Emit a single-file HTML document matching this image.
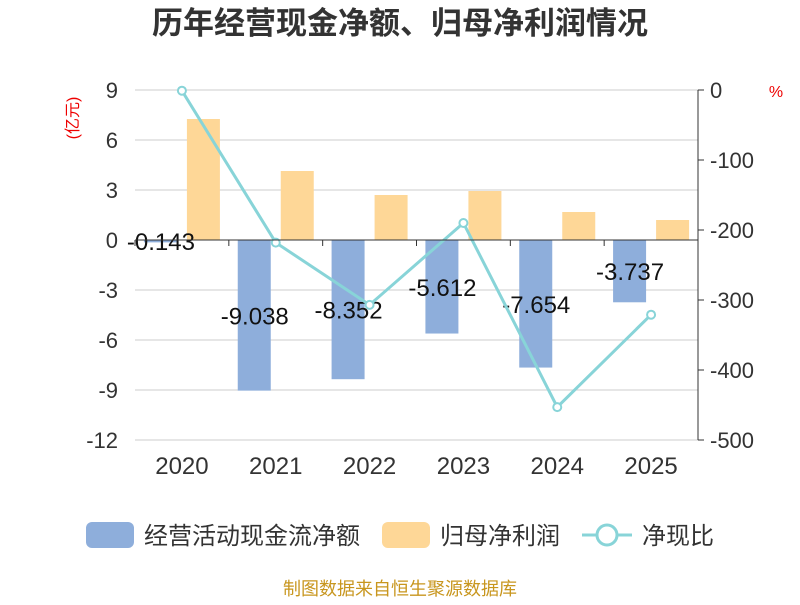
<!DOCTYPE html>
<html><head><meta charset="utf-8"><style>
body{margin:0;background:#fff;font-family:"Liberation Sans","Noto Sans CJK SC",sans-serif}
</style></head><body>
<svg width="800" height="600" viewBox="0 0 800 600" font-family="Liberation Sans, Noto Sans CJK SC, sans-serif">
<text x="400" y="34" text-anchor="middle" font-size="31" font-weight="bold" fill="#333">历年经营现金净额、归母净利润情况</text>
<text transform="translate(78,118) rotate(-90)" text-anchor="middle" font-size="16" fill="#e00">(亿元)</text>
<text x="776" y="97" text-anchor="middle" font-size="16" fill="#e00">%</text>
<g id="grid"></g><g id="bars"></g><g id="line"></g><g id="axes"></g>
<g>
<rect x="86" y="522" width="48" height="26" rx="6" fill="#8eaedb"/>
<text x="144" y="544" font-size="24" fill="#333">经营活动现金流净额</text>
<rect x="382" y="522" width="48" height="26" rx="6" fill="#fed797"/>
<text x="440" y="544" font-size="24" fill="#333">归母净利润</text>
<line x1="582" y1="535" x2="632" y2="535" stroke="#88d4d8" stroke-width="3"/>
<circle cx="607" cy="535" r="10" fill="#fff" stroke="#88d4d8" stroke-width="3"/>
<text x="642" y="544" font-size="24" fill="#333">净现比</text>
</g>
<text x="400" y="595" text-anchor="middle" font-size="18" fill="#c8961e">制图数据来自恒生聚源数据库</text>
</svg>
<script>
const categories=["2020","2021","2022","2023","2024","2025"];
const cashFlow=[-0.143,-9.038,-8.352,-5.612,-7.654,-3.737];
const profit=[7.26,4.14,2.7,2.94,1.68,1.2];
const ratio=[-1,-218,-307,-190,-453,-321];
const leftTicks=[9,6,3,0,-3,-6,-9,-12];
const rightTicks=[0,-100,-200,-300,-400,-500];
const NS="http://www.w3.org/2000/svg";
const x0=135,x1=698,band=(x1-x0)/categories.length;
const yL=v=>240-(v/3)*50;
const yR=v=>90-(v/100)*70;
const cx=i=>x0+band*(i+0.5);
function mk(tag,attrs,parent,text){const e=document.createElementNS(NS,tag);for(const k in attrs)e.setAttribute(k,attrs[k]);if(text!==undefined)e.textContent=text;document.getElementById(parent).appendChild(e);return e;}
leftTicks.forEach(t=>{
 const g=mk('line',{x1:x0,x2:x1,y1:yL(t),y2:yL(t),stroke:'#ccc','stroke-width':1},'grid');
 
 
 const l=mk('text',{x:x0-17,y:yL(t)+8,'text-anchor':'end','font-size':22,fill:'#333'},'axes',String(t));
 
 
});
rightTicks.forEach(t=>{
 const tk=mk('line',{x1:x1,x2:x1+6,y1:yR(t),y2:yR(t),stroke:'#333'},'axes');
 
 
 const l=mk('text',{x:x1+12,y:yR(t)+8,'font-size':22,fill:'#333'},'axes',String(t));
 
 
});
const ra=mk('line',{x1:x1,x2:x1,y1:90,y2:440,stroke:'#333'},'axes');


const xa=mk('line',{x1:x0,x2:x1,y1:yL(0),y2:yL(0),stroke:'#333'},'axes');


categories.forEach((c,i)=>{
 const tk=mk('line',{x1:x0+band*i,x2:x0+band*i,y1:yL(0),y2:yL(0)+6,stroke:'#333'},'axes');
 
 
 const l=mk('text',{x:cx(i),y:474,'text-anchor':'middle','font-size':24,fill:'#333'},'axes',c);
 
 
 const bw=33;
 const y0=yL(0),yb=yL(cashFlow[i]);
 const b=mk('rect',{x:cx(i)-38,y:Math.min(y0,yb),width:bw,height:Math.abs(yb-y0),fill:'#8eaedb'},'bars');
 
 
 const yp=yL(profit[i]);
 const p=mk('rect',{x:cx(i)+5,y:Math.min(y0,yp),width:bw,height:Math.abs(yp-y0),fill:'#fed797'},'bars');
 
 
});
categories.forEach((c,i)=>{
 const v=mk('text',{x:cx(i)-21,y:(yL(0)+yL(cashFlow[i]))/2+9,'text-anchor':'middle','font-size':24,fill:'#111'},'bars',String(cashFlow[i]));
 
 
});
const pl=mk('polyline',{points:ratio.map((v,i)=>cx(i)+','+yR(v)).join(' '),fill:'none',stroke:'#88d4d8','stroke-width':3},'line');


ratio.forEach((v,i)=>{
 const m=mk('circle',{cx:cx(i),cy:yR(v),r:4,fill:'#fff',stroke:'#88d4d8','stroke-width':2},'line');
 
 
});
</script>
</body></html>
